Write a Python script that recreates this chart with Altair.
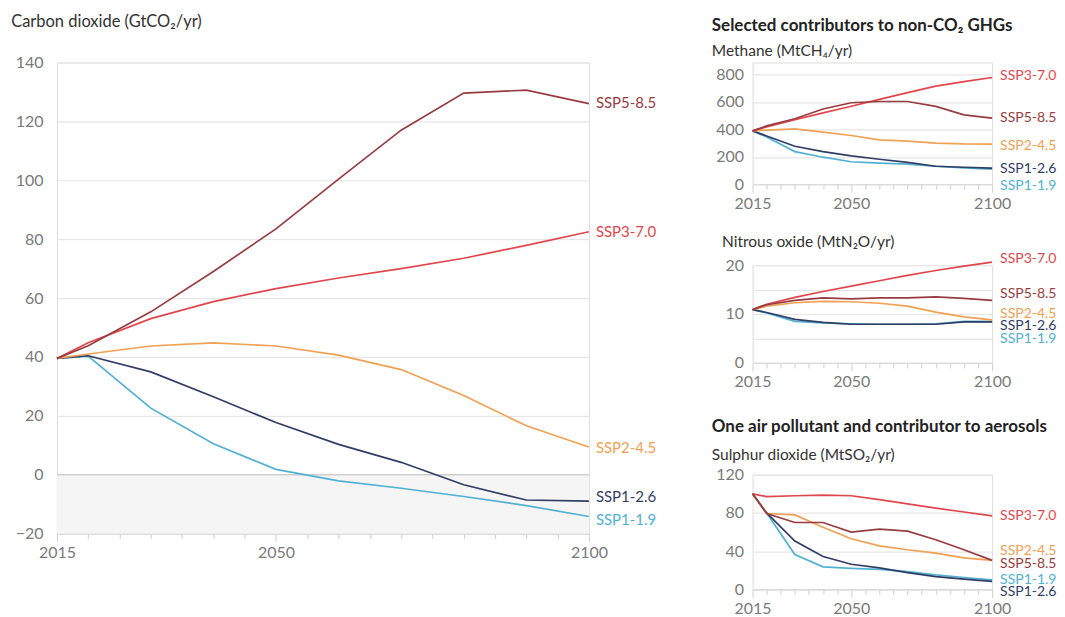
import altair as alt
import pandas as pd

years = [2015, 2020, 2030, 2040, 2050, 2060, 2070, 2080, 2090, 2100]
scenarios = ["SSP1-1.9", "SSP1-2.6", "SSP2-4.5", "SSP3-7.0", "SSP5-8.5"]
colors = ["#52b1d2", "#323d66", "#efa154", "#e0474d", "#973d42"]

# Carbon dioxide (GtCO2/yr)
co2_ssp119 = [39.5, 40.3, 22.6, 10.5, 1.8, -2.1, -4.6, -7.4, -10.5, -14.2]
co2_ssp126 = [39.5, 40.4, 34.9, 26.5, 17.7, 10.3, 4.2, -3.4, -8.6, -9.0]
co2_ssp245 = [39.5, 41.0, 43.7, 44.8, 43.7, 40.6, 35.7, 26.9, 16.6, 9.4]
co2_ssp370 = [39.5, 44.8, 53.0, 58.8, 63.2, 66.8, 70.0, 73.5, 77.9, 82.5]
co2_ssp585 = [39.5, 43.8, 55.3, 69.0, 83.5, 100.4, 117.0, 129.6, 130.6, 126.0]
co2_label_at = [-15.3, -7.5, 9.2, 82.4, 126.1]

# Methane (MtCH4/yr)
ch4_ssp119 = [389, 345, 238, 197, 164, 154, 146, 131, 119, 110]
ch4_ssp126 = [389, 352, 277, 238, 207, 182, 160, 131, 124, 117]
ch4_ssp245 = [389, 395, 404, 380, 355, 324, 314, 300, 294, 293]
ch4_ssp370 = [389, 418, 470, 520, 568, 618, 668, 715, 748, 778]
ch4_ssp585 = [389, 425, 477, 548, 594, 603, 603, 567, 506, 482]
ch4_label_at = [-10, 112, 277, 786, 484]

# Nitrous oxide (MtN2O/yr)
n2o_ssp119 = [10.9, 10.2, 8.5, 8.2, 8.0, 7.9, 7.9, 8.0, 8.5, 8.5]
n2o_ssp126 = [10.9, 10.3, 8.9, 8.3, 7.9, 7.9, 7.9, 7.9, 8.4, 8.4]
n2o_ssp245 = [10.9, 11.6, 12.3, 12.6, 12.5, 12.2, 11.6, 10.4, 9.4, 8.8]
n2o_ssp370 = [10.9, 12.0, 13.4, 14.6, 15.7, 16.8, 17.9, 18.9, 19.8, 20.6]
n2o_ssp585 = [10.9, 11.9, 12.8, 13.3, 13.1, 13.3, 13.3, 13.5, 13.2, 12.8]
n2o_label_at = [4.8, 7.5, 10.0, 21.3, 14.1]

# Sulphur dioxide (MtSO2/yr)
so2_ssp119 = [100, 80, 36.5, 23.6, 22, 21, 18.6, 15.2, 12.5, 10]
so2_ssp126 = [100, 80, 50.7, 34.5, 26.4, 22.6, 17.6, 13.5, 10.8, 8.4]
so2_ssp245 = [100, 79.4, 78, 65, 53, 45.6, 41.5, 38, 33, 30.4]
so2_ssp370 = [100, 97, 98, 98.6, 98, 94, 89.5, 85, 81, 77]
so2_ssp585 = [100, 79.4, 70, 70, 60, 63, 61, 52, 41.5, 30.4]
so2_label_at = [10, -2.7, 40.5, 77, 27]

x_tick_values = list(range(2015, 2101, 5))
x_label_years = [2015, 2050, 2100]

FONT = "Lato"
LABEL_GREY = "#7a7a7a"
TITLE_COL = "#333333"

color_scale = alt.Scale(domain=scenarios, range=colors)


def long_df(series):
    rows = []
    for s, vals in zip(scenarios, series):
        for yr, v in zip(years, vals):
            rows.append({"year": yr, "value": v, "scenario": s})
    return pd.DataFrame(rows)


def panel(series, label_at, ydomain, yvalues, ylabels, width, height, title,
          dx, axis_font, label_font, shade=False):
    df = long_df(series)
    lab = pd.DataFrame({"year": [years[-1]] * len(scenarios),
                        "value": label_at, "scenario": scenarios})
    test = "indexof(%s, datum.value) >= 0" % str(x_label_years)
    ytest = "indexof(%s, datum.value) >= 0" % str(ylabels)
    xaxis = alt.Axis(values=x_tick_values, format="d",
                     labelExpr="%s ? datum.label : ''" % test,
                     grid=False, domain=True, domainColor="#d9d9d9",
                     domainWidth=1.2, tickColor="#d0d0d0", tickWidth=1,
                     tickSize={"condition": {"test": test, "value": 8}, "value": 5},
                     labelFontSize=axis_font, labelColor=LABEL_GREY, labelFont=FONT,
                     labelPadding=3, labelFlush=False, title=None)
    yaxis = alt.Axis(values=yvalues,
                     labelExpr="%s ? datum.label : ''" % ytest,
                     grid=True, gridColor="#e6e6e6", gridWidth=1.2,
                     domain=False, ticks=False,
                     labelFontSize=axis_font, labelColor=LABEL_GREY, labelFont=FONT,
                     labelPadding=14 if shade else 9, title=None)
    xs = alt.Scale(domain=[years[0], years[-1]], nice=False, zero=False)
    ys = alt.Scale(domain=ydomain, nice=False, zero=False)
    X = alt.X("year:Q", scale=xs, axis=xaxis)
    Y = alt.Y("value:Q", scale=ys, axis=yaxis)

    layers = []
    if shade:
        shade_df = pd.DataFrame({"year": [years[0]], "year2": [years[-1]],
                                 "value": [0], "value2": [ydomain[0]]})
        layers.append(alt.Chart(shade_df).mark_rect(color="#f5f5f5").encode(
            x=X, x2="year2:Q", y=Y, y2="value2:Q"))
        layers.append(alt.Chart(pd.DataFrame({"value": [0]})).mark_rule(
            color="#cfcfcf", strokeWidth=1.5).encode(y=Y))
    lines = alt.Chart(df).mark_line(strokeWidth=1.7).encode(
        x=X, y=Y,
        color=alt.Color("scenario:N", scale=color_scale, legend=None),
        detail="scenario:N")
    texts = alt.Chart(lab).mark_text(align="left", baseline="middle", dx=dx,
                                     fontSize=label_font, font=FONT).encode(
        x=X, y=Y, text="scenario:N",
        color=alt.Color("scenario:N", scale=color_scale, legend=None))
    layers += [lines, texts]
    return alt.layer(*layers).properties(width=width, height=height, title=title)


main = panel([co2_ssp119, co2_ssp126, co2_ssp245, co2_ssp370, co2_ssp585],
             co2_label_at, [-20, 140], list(range(-20, 141, 20)),
             list(range(-20, 141, 20)), 533, 472,
             alt.Title("Carbon dioxide (GtCO₂/yr)", anchor="start", frame="bounds",
                       fontSize=16.5, fontWeight="normal", color=TITLE_COL, font=FONT,
                       offset=24, dx=-4),
             7, 16, 15, shade=True)

ch4 = panel([ch4_ssp119, ch4_ssp126, ch4_ssp245, ch4_ssp370, ch4_ssp585],
            ch4_label_at, [0, 887.3], [0, 200, 400, 600, 800], [0, 200, 400, 600, 800],
            240, 122,
            alt.Title("Selected contributors to non-CO₂ GHGs",
                      subtitle="Methane (MtCH₄/yr)", anchor="start", frame="bounds",
                      fontSize=17, fontWeight="bold", color="#222222", font=FONT,
                      subtitleFontSize=15.5, subtitleColor=TITLE_COL, subtitleFont=FONT,
                      subtitlePadding=9, offset=2, dx=-4),
            8, 16, 14)

n2o = panel([n2o_ssp119, n2o_ssp126, n2o_ssp245, n2o_ssp370, n2o_ssp585],
            n2o_label_at, [0, 20], [0, 5, 10, 15, 20], [0, 10, 20],
            240, 98,
            alt.Title("Nitrous oxide (MtN₂O/yr)", anchor="start", frame="bounds",
                      fontSize=15.5, fontWeight="normal", color=TITLE_COL, font=FONT,
                      offset=1, dx=-3),
            8, 16, 14)

so2 = panel([so2_ssp119, so2_ssp126, so2_ssp245, so2_ssp370, so2_ssp585],
            so2_label_at, [0, 120], [0, 40, 80, 120], [0, 40, 80, 120],
            240, 115,
            alt.Title("One air pollutant and contributor to aerosols",
                      subtitle="Sulphur dioxide (MtSO₂/yr)", anchor="start", frame="bounds",
                      fontSize=17, fontWeight="bold", color="#222222", font=FONT,
                      subtitleFontSize=15.5, subtitleColor=TITLE_COL, subtitleFont=FONT,
                      subtitlePadding=12, offset=2, dx=-4),
            8, 16, 14)

right = alt.vconcat(alt.vconcat(ch4, n2o, spacing=22), so2, spacing=27)
chart = alt.hconcat(main, right, spacing=54).properties(
    padding={"left": 2, "top": 5, "right": 0, "bottom": 0}
).configure_view(stroke=None).configure(font=FONT)

chart.save("out.html", embed_options={"renderer": "svg", "actions": False})
